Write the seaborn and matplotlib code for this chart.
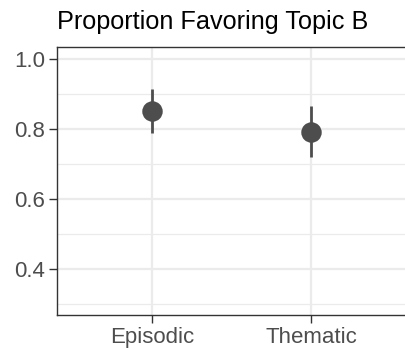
import matplotlib
matplotlib.use("Agg")
import matplotlib.pyplot as plt
import seaborn as sns
import pandas as pd
from matplotlib.ticker import MultipleLocator

conditions = ["Episodic", "Thematic"]
means = [0.853, 0.791]
lower = [0.790, 0.720]
upper = [0.915, 0.865]
title = "Proportion Favoring Topic B"

sns.set_theme(style="white")
plt.rcParams["font.family"] = ["Liberation Sans", "DejaVu Sans"]

df = pd.DataFrame({"cond": conditions, "mean": means, "lo": lower, "hi": upper})

fig = plt.figure(figsize=(4.05, 3.5), dpi=100)
ax = fig.add_axes([0.1407, 0.10, 0.8635, 0.766])

col = "#4D4D4D"
sns.pointplot(data=df, x="cond", y="mean", errorbar=None, linestyle="none",
              color=col, markers="o", markersize=12.7, ax=ax, zorder=4)
ax.vlines(range(len(df)), df["lo"], df["hi"], color=col, linewidth=2.0, zorder=3)

ax.set_xlim(-0.6, 1.6)
ax.set_ylim(0.268, 1.035)
ax.yaxis.set_major_locator(MultipleLocator(0.2))
ax.yaxis.set_minor_locator(MultipleLocator(0.1))
ax.grid(which="major", color="#EBEBEB", linewidth=1.6, zorder=0)
ax.grid(which="minor", axis="y", color="#EBEBEB", linewidth=0.9, zorder=0)
ax.set_axisbelow(True)
ax.set_xlabel("")
ax.set_ylabel("")
for s in ax.spines.values():
    s.set_color("#333333")
    s.set_linewidth(1.0)
ax.tick_params(axis="both", which="major", length=5.8, width=1.0, color="#333333",
               labelsize=16, labelcolor="#4D4D4D", pad=2.5, bottom=True, left=True)
ax.tick_params(which="minor", length=0)
ax.set_yticks([0.4, 0.6, 0.8, 1.0])
ax.set_yticklabels(["0.4", "0.6", "0.8", "1.0"])
ax.set_title(title, loc="left", fontsize=18.2, color="black", pad=13)

fig.savefig("out.png", dpi=100)
